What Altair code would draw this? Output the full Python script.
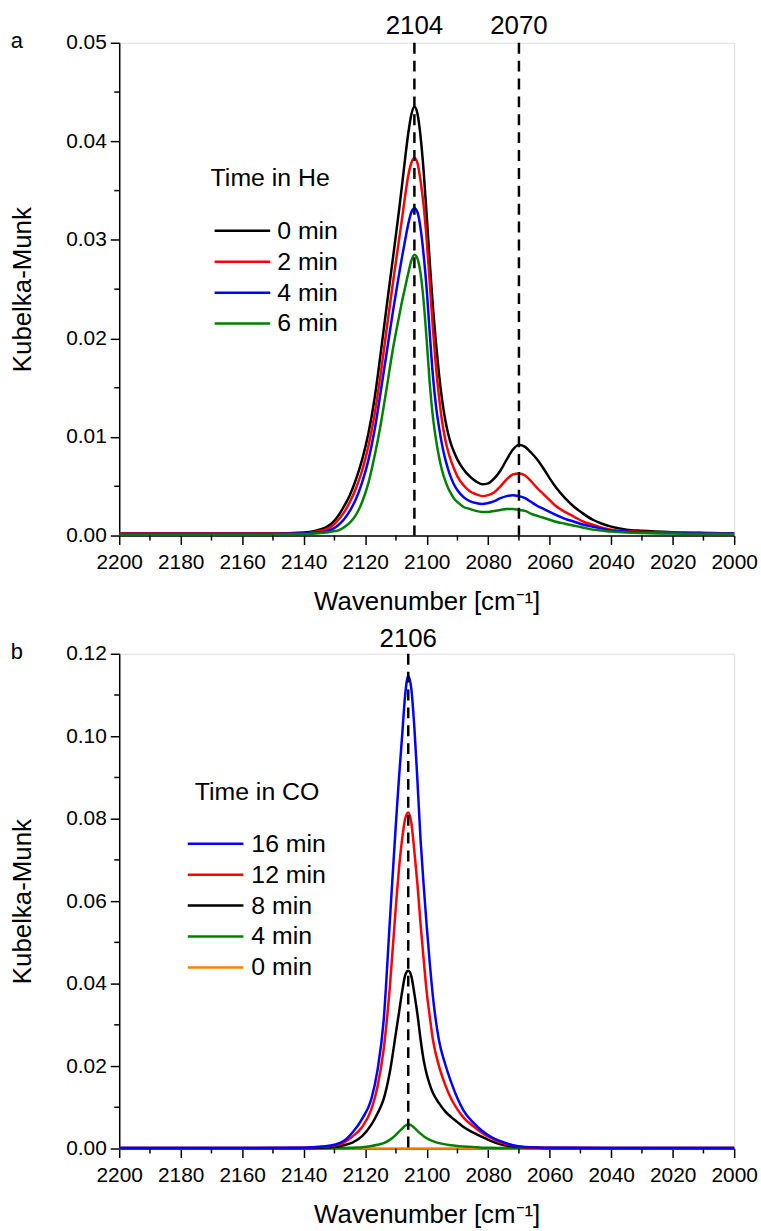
import altair as alt
import pandas as pd

FONT = "Liberation Sans"

# ---------------- panel a : time in He ----------------
wn_a = [2200, 2180, 2160, 2150, 2140, 2136, 2133, 2131, 2129, 2127, 2125, 2123, 2121, 2119,
        2117, 2115, 2113, 2111, 2109, 2108, 2107, 2106, 2105, 2104, 2103, 2102, 2101, 2100,
        2099, 2098, 2097, 2096, 2095, 2094, 2093, 2092, 2091, 2090, 2088, 2086, 2084, 2082,
        2080, 2078, 2076, 2074, 2072, 2070, 2068, 2066, 2064, 2062, 2060, 2058, 2055, 2052,
        2049, 2046, 2043, 2040, 2035, 2030, 2020, 2010, 2000]

he_0 = [0.0002, 0.0002, 0.0002, 0.0002, 0.0003, 0.0005, 0.0008, 0.0012, 0.0019, 0.0029, 0.0041,
        0.0057, 0.0077, 0.0103, 0.0138, 0.0184, 0.0233, 0.0281, 0.0330, 0.0356, 0.0383, 0.0408,
        0.0427, 0.0435, 0.0428, 0.0405, 0.0370, 0.0325, 0.0277, 0.0233, 0.0196, 0.0164, 0.0138,
        0.0118, 0.0103, 0.0092, 0.0084, 0.0077, 0.0067, 0.0060, 0.0055, 0.0052, 0.0053, 0.0058,
        0.0066, 0.0077, 0.0087, 0.0092, 0.0090, 0.0084, 0.0077, 0.0068, 0.0058, 0.0049, 0.0038,
        0.0029, 0.0022, 0.0016, 0.0012, 0.0009, 0.0006, 0.00048, 0.00034, 0.00027, 0.00023]

he_2 = [0.0002, 0.0002, 0.0002, 0.0002, 0.0002, 0.0004, 0.0006, 0.0009, 0.0015, 0.0023, 0.0034,
        0.0048, 0.0066, 0.0090, 0.0122, 0.0163, 0.0210, 0.0256, 0.0300, 0.0322, 0.0345, 0.0365,
        0.0378, 0.0383, 0.0378, 0.0360, 0.0335, 0.0300, 0.0256, 0.0211, 0.0172, 0.0141, 0.0116,
        0.0098, 0.0085, 0.0075, 0.0067, 0.0060, 0.0051, 0.0045, 0.0042, 0.0040, 0.0041, 0.0044,
        0.0050, 0.0057, 0.0062, 0.0063, 0.0061, 0.0055, 0.0048, 0.0042, 0.0036, 0.0030, 0.0024,
        0.0019, 0.0014, 0.0011, 0.0008, 0.0006, 0.00045, 0.00038, 0.0003, 0.00025, 0.0002]

he_4 = [0.00015, 0.00015, 0.00015, 0.00015, 0.0002, 0.0003, 0.0004, 0.0006, 0.0010, 0.0016, 0.0025,
        0.0037, 0.0054, 0.0076, 0.0106, 0.0145, 0.0186, 0.0227, 0.0265, 0.0283, 0.0300, 0.0316,
        0.0328, 0.0332, 0.0328, 0.0312, 0.0285, 0.0250, 0.0205, 0.0163, 0.0132, 0.0110, 0.0092,
        0.0078, 0.0067, 0.0058, 0.0051, 0.0046, 0.0039, 0.0035, 0.0033, 0.0032, 0.0033, 0.0035,
        0.0038, 0.0040, 0.0041, 0.0040, 0.0038, 0.0034, 0.0030, 0.0027, 0.0024, 0.0021, 0.0017,
        0.0014, 0.0011, 0.0009, 0.0007, 0.0005, 0.0004, 0.0003, 0.00025, 0.0002, 0.0002]

he_6 = [0.0001, 0.0001, 0.0001, 0.0001, 0.00015, 0.0002, 0.0003, 0.0004, 0.0005, 0.0008, 0.0013,
        0.0021, 0.0034, 0.0053, 0.0080, 0.0112, 0.0150, 0.0189, 0.0222, 0.0238, 0.0252, 0.0266,
        0.0279, 0.0285, 0.0281, 0.0266, 0.0238, 0.0198, 0.0154, 0.0121, 0.0098, 0.0080, 0.0066,
        0.0056, 0.0048, 0.0042, 0.0037, 0.0034, 0.0029, 0.0027, 0.0025, 0.0024, 0.0024, 0.0025,
        0.0026, 0.0027, 0.0027, 0.0026, 0.0025, 0.0022, 0.0020, 0.0018, 0.0016, 0.0014, 0.0012,
        0.0010, 0.0008, 0.0006, 0.0005, 0.0004, 0.0003, 0.00025, 0.0002, 0.00015, 0.00015]

he_labels = ["0 min", "2 min", "4 min", "6 min"]
he_colors = ["#000000", "#ff0000", "#0000ff", "#008000"]

# ---------------- panel b : time in CO ----------------
wn_b = [2200, 2160, 2140, 2134, 2130, 2127, 2124, 2121, 2118, 2116, 2114, 2112, 2110, 2109,
        2108, 2107, 2106, 2105, 2104, 2103, 2102, 2101, 2100, 2099, 2098, 2096, 2094, 2092,
        2090, 2088, 2085, 2082, 2079, 2076, 2072, 2068, 2060, 2040, 2000]

co_16 = [0.0001, 0.0001, 0.0002, 0.0005, 0.0009, 0.0018, 0.0040, 0.0072, 0.0120, 0.0190, 0.0310,
         0.0550, 0.0790, 0.0900, 0.1000, 0.1100, 0.1147, 0.1115, 0.1020, 0.0890, 0.0750, 0.0640,
         0.0540, 0.0450, 0.0370, 0.0262, 0.0205, 0.0160, 0.0122, 0.0092, 0.0064, 0.0043, 0.0028,
         0.0018, 0.0008, 0.0004, 0.0002, 0.0001, 0.0001]

co_12 = [0.0001, 0.0001, 0.0002, 0.0004, 0.0007, 0.0014, 0.0030, 0.0052, 0.0095, 0.0150, 0.0240,
         0.0390, 0.0590, 0.0680, 0.0750, 0.0800, 0.0815, 0.0790, 0.0720, 0.0640, 0.0545, 0.0460,
         0.0380, 0.0320, 0.0265, 0.0200, 0.0155, 0.0120, 0.0095, 0.0075, 0.0055, 0.0038, 0.0025,
         0.0015, 0.0007, 0.0003, 0.0002, 0.0001, 0.0001]

co_8 = [0.0001, 0.0001, 0.0001, 0.0002, 0.0004, 0.0008, 0.0015, 0.0030, 0.0058, 0.0085, 0.0120,
        0.0185, 0.0281, 0.0330, 0.0380, 0.0420, 0.0431, 0.0418, 0.0375, 0.0325, 0.0265, 0.0215,
        0.0180, 0.0155, 0.0135, 0.0110, 0.0090, 0.0076, 0.0064, 0.0052, 0.0039, 0.0028, 0.0018,
        0.0010, 0.0005, 0.0003, 0.0001, 0.0001, 0.0001]

co_4 = [0.0, 0.0, 0.0, 0.00005, 0.0001, 0.0001, 0.0002, 0.0003, 0.0006, 0.0009, 0.0013,
        0.0021, 0.0033, 0.0041, 0.0048, 0.0055, 0.0058, 0.0056, 0.0050, 0.0043, 0.0036, 0.0030,
        0.0025, 0.0021, 0.0018, 0.0013, 0.0010, 0.0008, 0.0006, 0.0005, 0.0004, 0.0002, 0.0002,
        0.0001, 0.0001, 0.0001, 0.0, 0.0, 0.0]

co_0 = [0.0] * len(wn_b)

co_labels = ["16 min", "12 min", "8 min", "4 min", "0 min"]
co_colors = ["#0000ff", "#ff0000", "#000000", "#008000", "#ff8000"]

# ---------------- ticks and annotations ----------------
x_ticks = [2200, 2180, 2160, 2140, 2120, 2100, 2080, 2060, 2040, 2020, 2000]
x_minor = [2190, 2170, 2150, 2130, 2110, 2090, 2070, 2050, 2030, 2010]
ya_ticks = [0.0, 0.01, 0.02, 0.03, 0.04, 0.05]
ya_minor = [0.005, 0.015, 0.025, 0.035, 0.045]
yb_ticks = [0.0, 0.02, 0.04, 0.06, 0.08, 0.10, 0.12]
yb_minor = [0.01, 0.03, 0.05, 0.07, 0.09, 0.11]
peaks_a = [2104, 2070]
peaks_b = [2106]

W = 619
HA = 496
HB = 498
LINE_W = 2.5
ONE = alt.Data(values=[{}])


def make_panel(wn, series, colors, labels, legend_title, ymax, yticks, yminor,
               peaks, letter, height, leg):
    xscale = alt.Scale(domain=[2000, 2200], reverse=True, nice=False, zero=False)
    xaxis = alt.Axis(values=x_ticks, format="d", title="Wavenumber [cm\u207b\u00b9]",
                     grid=False, tickSize=9, tickWidth=1.5, tickColor="black",
                     domainColor="black", domainWidth=1.5, labelFontSize=21,
                     labelColor="black", labelFont=FONT, labelPadding=7, labelFlush=False,
                     titleFontSize=26, titleFont=FONT, titleFontWeight="normal",
                     titleColor="black", titleY=53)
    yscale = alt.Scale(domain=[0, ymax], nice=False, zero=False)
    yaxis = alt.Axis(values=yticks, format=".2f", title="Kubelka-Munk", grid=False,
                     tickSize=9, tickWidth=1.5, tickColor="black", domainColor="black",
                     domainWidth=1.5, labelFontSize=21, labelColor="black", labelFont=FONT,
                     labelPadding=4, labelFlush=False, titleFontSize=26, titleFont=FONT,
                     titleFontWeight="normal", titleColor="black", titleX=-84)
    X = alt.X("wn:Q", scale=xscale, axis=xaxis)
    Y = alt.Y("km:Q", scale=yscale, axis=yaxis)

    layers = []
    # spectra, drawn in order of time
    for vals, col in series:
        df = pd.DataFrame({"wn": wn, "km": vals})
        layers.append(alt.Chart(df).mark_line(color=col, strokeWidth=LINE_W,
                                               interpolate="monotone").encode(x=X, y=Y))
    # dashed peak markers
    pk = pd.DataFrame({"wn": peaks})
    layers.append(alt.Chart(pk).mark_rule(color="black", strokeWidth=2.5,
                                          strokeDash=[11, 7]).encode(x=X))
    layers.append(alt.Chart(pk).mark_text(fontSize=26, font=FONT, color="black",
                                          baseline="middle").encode(
        x=X, y=alt.value(leg["peak_y"]), text=alt.Text("wn:Q", format="d")))
    # minor ticks
    layers.append(alt.Chart(pd.DataFrame({"wn": x_minor})).mark_rule(
        color="black", strokeWidth=1.5).encode(x=X, y=alt.value(height), y2=alt.value(height + 5)))
    layers.append(alt.Chart(pd.DataFrame({"km": yminor})).mark_rule(
        color="black", strokeWidth=1.5).encode(y=Y, x=alt.value(0), x2=alt.value(-5)))
    # panel letter
    layers.append(alt.Chart(ONE).mark_text(text=letter, fontSize=22, font=FONT, color="black",
                                           align="center", baseline="middle").encode(
        x=alt.value(leg["letter_x"]), y=alt.value(-2)))
    # legend
    layers.append(alt.Chart(ONE).mark_text(text=legend_title, fontSize=25, font=FONT,
                                           color="black", align="left",
                                           baseline="middle").encode(
        x=alt.value(leg["title_x"]), y=alt.value(leg["title_y"])))
    for i, lab in enumerate(labels):
        yy = leg["row0"] + i * leg["dy"]
        layers.append(alt.Chart(ONE).mark_rule(color=colors[i], strokeWidth=LINE_W).encode(
            x=alt.value(leg["line_x0"]), x2=alt.value(leg["line_x1"]), y=alt.value(yy)))
        layers.append(alt.Chart(ONE).mark_text(text=lab, fontSize=25, font=FONT,
                                               color="black", align="left",
                                               baseline="middle").encode(
            x=alt.value(leg["text_x"]), y=alt.value(yy)))
    return alt.layer(*layers).properties(width=W, height=height)


panel_a = make_panel(
    wn_a,
    [(he_0, he_colors[0]), (he_2, he_colors[1]), (he_4, he_colors[2]), (he_6, he_colors[3])],
    he_colors, he_labels, "Time in He", 0.05, ya_ticks, ya_minor, peaks_a, "a", HA,
    dict(peak_y=-17, letter_x=-103, title_x=92, title_y=136, row0=189.3, dy=31.1,
         line_x0=96, line_x1=152, text_x=159))

panel_b = make_panel(
    wn_b,
    [(co_0, co_colors[4]), (co_4, co_colors[3]), (co_8, co_colors[2]),
     (co_12, co_colors[1]), (co_16, co_colors[0])],
    co_colors, co_labels, "Time in CO", 0.12, yb_ticks, yb_minor, peaks_b, "b", HB,
    dict(peak_y=-15, letter_x=-103, title_x=76, title_y=139, row0=191.3, dy=31.1,
         line_x0=69, line_x1=125, text_x=133))

chart = alt.vconcat(panel_a, panel_b, spacing=10).properties(
    padding={"left": 9, "top": 8, "right": 3, "bottom": 5}
).configure_view(stroke=None).configure(background="white")

chart.save("out.html", embed_options={"renderer": "svg", "actions": False})
